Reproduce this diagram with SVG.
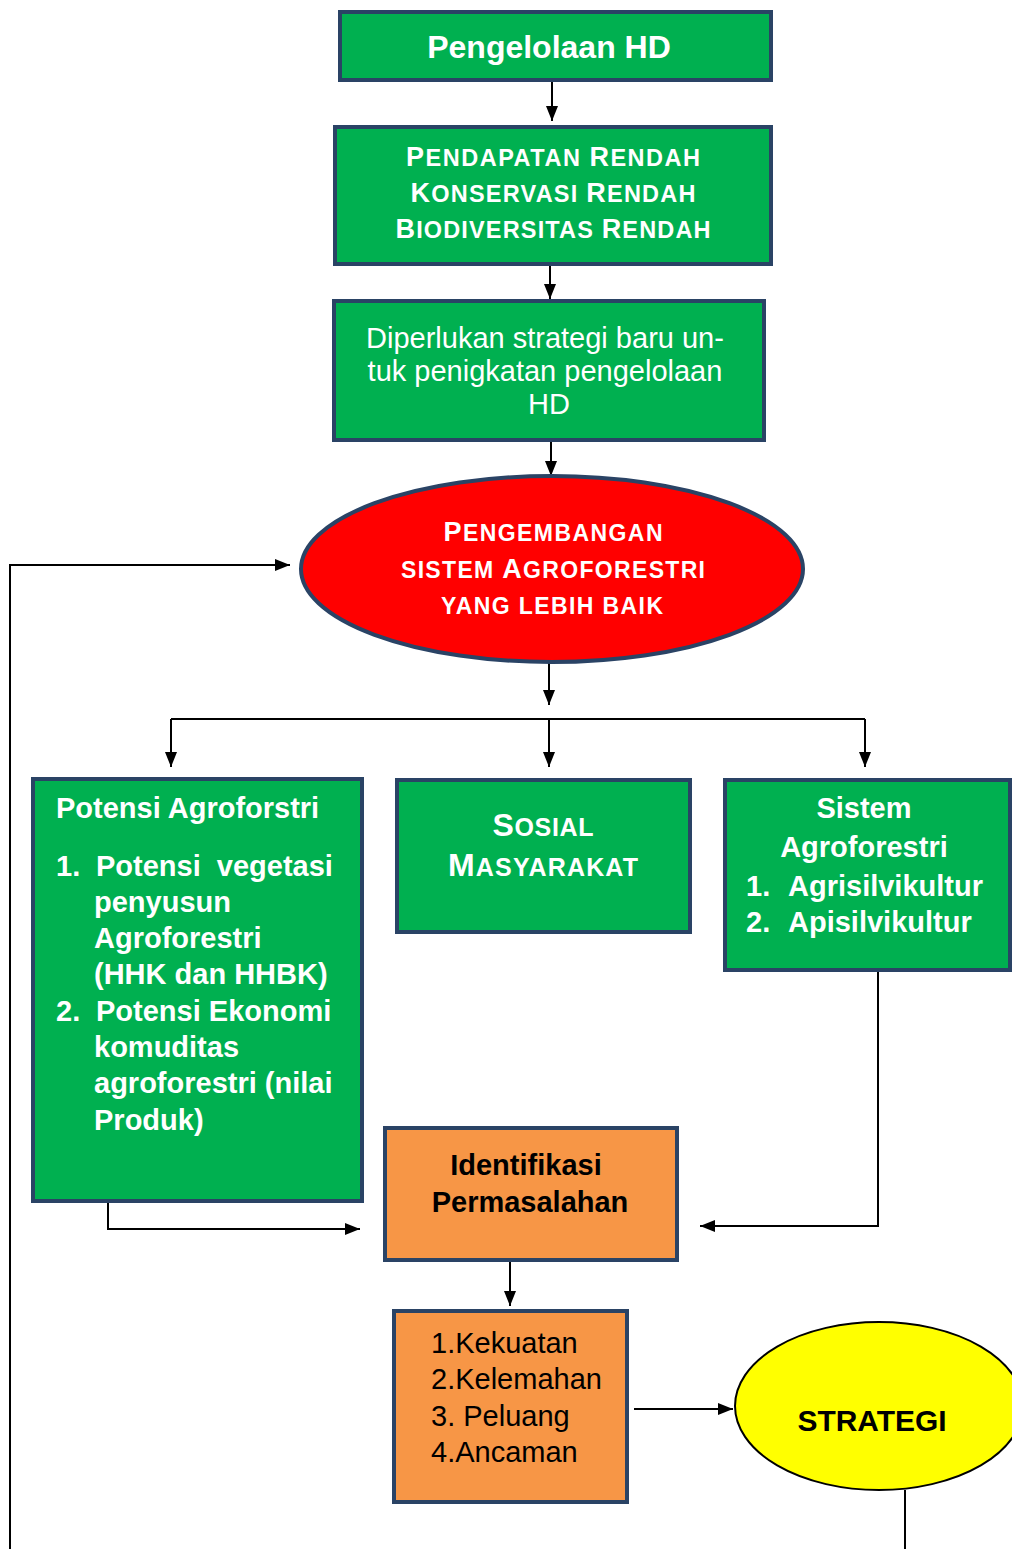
<svg xmlns="http://www.w3.org/2000/svg" width="1012" height="1549" viewBox="0 0 1012 1549">
<style>
.g{fill:#00B050;stroke:#2A4365;stroke-width:4}
.o{fill:#F79646;stroke:#2A4365;stroke-width:4}
.w{fill:#fff;font-family:"Liberation Sans",Arial,sans-serif}
.k{fill:#000;font-family:"Liberation Sans",Arial,sans-serif}
.b{font-weight:bold}
.c{stroke:#000;stroke-width:2;fill:none}
</style>
<defs>
<marker id="ah" viewBox="0 0 15 12" refX="15" refY="6" markerWidth="15" markerHeight="12" markerUnits="userSpaceOnUse" orient="auto">
<path d="M0,0 L15,6 L0,12 z" fill="#000"/>
</marker>
</defs>
<rect width="1012" height="1549" fill="#fff"/>
<g id="connectors">
<path class="c" d="M552,82 V121" marker-end="url(#ah)"/>
<path class="c" d="M550,253 V299" marker-end="url(#ah)"/>
<path class="c" d="M551,430 V476" marker-end="url(#ah)"/>
<path class="c" d="M549,658 V705" marker-end="url(#ah)"/>
<path class="c" d="M171,719 H865"/>
<path class="c" d="M171,719 V767" marker-end="url(#ah)"/>
<path class="c" d="M549,719 V767" marker-end="url(#ah)"/>
<path class="c" d="M865,719 V767" marker-end="url(#ah)"/>
<path class="c" d="M878,972 V1226 H700" marker-end="url(#ah)"/>
<path class="c" d="M108,1203 V1229 H360" marker-end="url(#ah)"/>
<path class="c" d="M510,1262 V1306" marker-end="url(#ah)"/>
<path class="c" d="M634,1409 H733" marker-end="url(#ah)"/>
<path class="c" d="M905,1490 V1549"/>
<path class="c" d="M10,1549 V565 H290" marker-end="url(#ah)"/>
</g>
<g id="n1">
<rect class="g" x="340" y="12" width="431" height="68"/>
<text class="w b" x="549" y="58" font-size="32" text-anchor="middle">Pengelolaan HD</text>
</g>
<g id="n2">
<rect class="g" x="335" y="127" width="436" height="137"/>
<text class="w b" x="553" y="166" text-anchor="middle" textLength="294" lengthAdjust="spacing"><tspan font-size="27">P</tspan><tspan font-size="23.5">ENDAPATAN </tspan><tspan font-size="27">R</tspan><tspan font-size="23.5">ENDAH</tspan></text>
<text class="w b" x="553" y="202" text-anchor="middle" textLength="285" lengthAdjust="spacing"><tspan font-size="27">K</tspan><tspan font-size="23.5">ONSERVASI </tspan><tspan font-size="27">R</tspan><tspan font-size="23.5">ENDAH</tspan></text>
<text class="w b" x="553" y="238" text-anchor="middle" textLength="315" lengthAdjust="spacing"><tspan font-size="27">B</tspan><tspan font-size="23.5">IODIVERSITAS </tspan><tspan font-size="27">R</tspan><tspan font-size="23.5">ENDAH</tspan></text>
</g>
<g id="n3">
<rect class="g" x="334" y="301" width="430" height="139"/>
<text class="w" font-size="29" text-anchor="middle">
<tspan x="549" y="348">Diperlukan strategi baru un-</tspan>
<tspan x="549" y="381">tuk penigkatan pengelolaan</tspan>
<tspan x="549" y="414">HD</tspan>
</text>
</g>
<g id="n4">
<ellipse cx="552" cy="569" rx="251" ry="93" fill="#FF0000" stroke="#2A4365" stroke-width="4"/>
<text class="w b" x="553" y="541" text-anchor="middle" textLength="219" lengthAdjust="spacing"><tspan font-size="27">P</tspan><tspan font-size="23">ENGEMBANGAN</tspan></text>
<text class="w b" x="553" y="578" text-anchor="middle" textLength="304" lengthAdjust="spacing"><tspan font-size="23">SISTEM </tspan><tspan font-size="27">A</tspan><tspan font-size="23">GROFORESTRI</tspan></text>
<text class="w b" x="552" y="614" font-size="23" text-anchor="middle" textLength="222" lengthAdjust="spacing">YANG LEBIH BAIK</text>
</g>
<g id="n5">
<rect class="g" x="33" y="779" width="329" height="422"/>
<text class="w b" font-size="29">
<tspan x="56" y="818">Potensi Agroforstri</tspan>
<tspan x="56" y="876">1.</tspan><tspan x="96" y="876">Potensi&#160; vegetasi</tspan>
<tspan x="94" y="912">penyusun</tspan>
<tspan x="94" y="948">Agroforestri</tspan>
<tspan x="94" y="984">(HHK dan HHBK)</tspan>
<tspan x="56" y="1021">2.</tspan><tspan x="96" y="1021">Potensi Ekonomi</tspan>
<tspan x="94" y="1057">komuditas</tspan>
<tspan x="94" y="1093">agroforestri (nilai</tspan>
<tspan x="94" y="1130">Produk)</tspan>
</text>
</g>
<g id="n6">
<rect class="g" x="397" y="780" width="293" height="152"/>
<text class="w b" x="543" y="836" text-anchor="middle" textLength="101" lengthAdjust="spacing"><tspan font-size="32">S</tspan><tspan font-size="25">OSIAL</tspan></text>
<text class="w b" x="543" y="876" text-anchor="middle" textLength="190" lengthAdjust="spacing"><tspan font-size="32">M</tspan><tspan font-size="25">ASYARAKAT</tspan></text>
</g>
<g id="n7">
<rect class="g" x="725" y="780" width="285" height="190"/>
<text class="w b" font-size="29">
<tspan x="868" y="818" text-anchor="middle">Sistem</tspan>
<tspan x="868" y="857" text-anchor="middle">Agroforestri</tspan>
<tspan x="746" y="896">1.</tspan><tspan x="788" y="896">Agrisilvikultur</tspan>
<tspan x="746" y="932">2.</tspan><tspan x="788" y="932">Apisilvikultur</tspan>
</text>
</g>
<g id="n8">
<rect class="o" x="385" y="1128" width="292" height="132"/>
<text class="k b" font-size="29" text-anchor="middle">
<tspan x="530" y="1175">Identifikasi</tspan>
<tspan x="530" y="1212">Permasalahan</tspan>
</text>
</g>
<g id="n9">
<rect class="o" x="394" y="1311" width="233" height="191"/>
<text class="k" font-size="29">
<tspan x="431" y="1353">1.Kekuatan</tspan>
<tspan x="431" y="1389">2.Kelemahan</tspan>
<tspan x="431" y="1426">3. Peluang</tspan>
<tspan x="431" y="1462">4.Ancaman</tspan>
</text>
</g>
<g id="n10">
<ellipse cx="879" cy="1406" rx="144" ry="84" fill="#FFFF00" stroke="#000" stroke-width="2"/>
<text class="k b" x="872" y="1431" font-size="30" text-anchor="middle" textLength="149" lengthAdjust="spacingAndGlyphs">STRATEGI</text>
</g>
</svg>
